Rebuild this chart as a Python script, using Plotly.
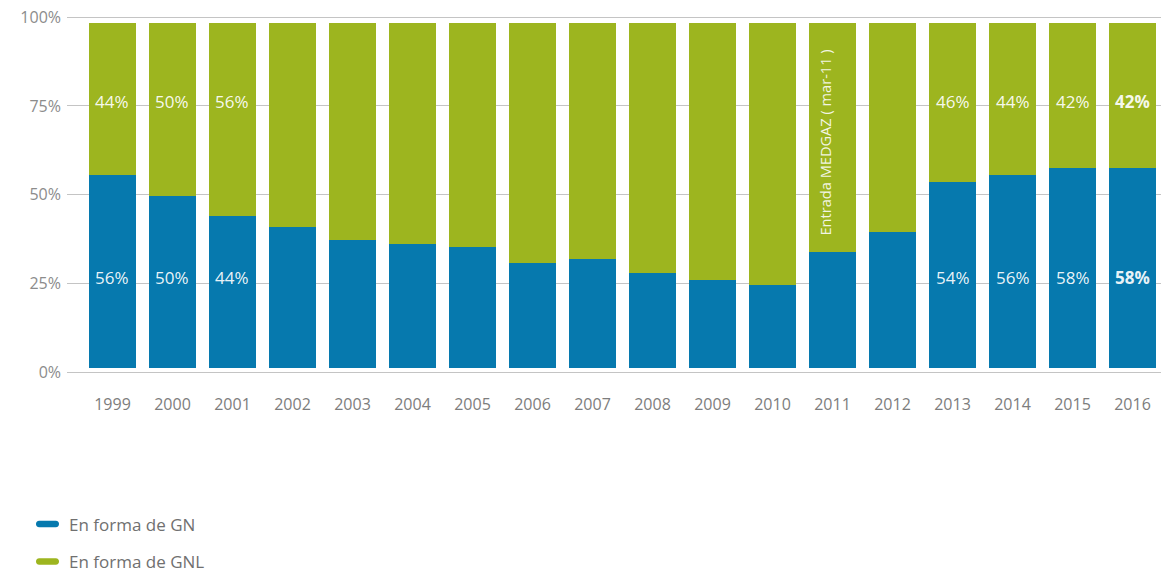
import plotly.graph_objects as go

YEARS = ["1999", "2000", "2001", "2002", "2003", "2004", "2005", "2006", "2007",
         "2008", "2009", "2010", "2011", "2012", "2013", "2014", "2015", "2016"]

# share of imports (%)
GN = [56, 50, 44, 41, 37, 36, 35, 30.5, 31.5, 27.5, 25.5, 24, 33.5, 39.5, 54, 56, 58, 58]
GNL = [44, 50, 56, 59, 63, 64, 65, 69.5, 68.5, 72.5, 74.5, 76, 66.5, 60.5, 46, 44, 42, 42]

GN_LABELS = ["56%", "50%", "44%", "", "", "", "", "", "", "", "", "", "", "",
             "54%", "56%", "58%", "58%"]
GNL_LABELS = ["44%", "50%", "56%", "", "", "", "", "", "", "", "", "", "", "",
              "46%", "44%", "42%", "42%"]
BOLD_YEAR = "2016"

SERIES_NAMES = ["En forma de GN", "En forma de GNL"]
Y_TICKS = [0, 25, 50, 75, 100]
Y_TICK_TEXT = ["0%", "25%", "50%", "75%", "100%"]

NOTE_YEAR = "2011"
NOTE_TEXT = "Entrada MEDGAZ ( mar-11 )"

BLUE = "#0679ae"
GREEN = "#9db51f"
FONT = "Open Sans, sans-serif"

# in the original the gridlines are on a slightly taller scale than the bars
GRID_ZERO = -1.36
GRID_SCALE = 1.031
grid_vals = [GRID_ZERO + t * GRID_SCALE for t in Y_TICKS]

fig = go.Figure()
for name, vals, col in [(SERIES_NAMES[0], GN, BLUE), (SERIES_NAMES[1], GNL, GREEN)]:
    fig.add_trace(go.Bar(
        x=YEARS, y=vals, name=name,
        marker=dict(color=col, line=dict(width=0)),
        showlegend=False, hoverinfo="x+y+name",
    ))

# annotation x on a category axis: use the category index (year strings look numeric)
annotations = []
for i, (yr, a, b) in enumerate(zip(YEARS, GN_LABELS, GNL_LABELS)):
    for txt, ypos in [(a, 26.2), (b, 77.3)]:
        if not txt:
            continue
        if yr == BOLD_YEAR:
            txt = f"<b>{txt}</b>"
        annotations.append(dict(
            x=i, y=ypos, xref="x", yref="y", text=txt, showarrow=False,
            font=dict(family=FONT, size=17, color="rgba(255,255,255,0.93)"),
        ))

annotations.append(dict(
    x=YEARS.index(NOTE_YEAR), y=65.5, xref="x", yref="y", xshift=-7, text=NOTE_TEXT,
    textangle=-90, showarrow=False,
    font=dict(family=FONT, size=14.6, color="rgba(255,255,255,0.88)"),
))

# legend drawn by hand: rounded pills + labels
L, T, B, W = 67, 15, 375, 1094
H = B - T
pill = ("M -8.25,-3.2 L 8.25,-3.2 C 12.6,-3.2 12.6,3.2 8.25,3.2 "
        "L -8.25,3.2 C -12.6,3.2 -12.6,-3.2 -8.25,-3.2 Z")
shapes = []
for i, (name, col) in enumerate(zip(SERIES_NAMES, [BLUE, GREEN])):
    py = 524 + i * 37.5
    ypaper = (B - py) / H
    shapes.append(dict(
        type="path", xref="paper", yref="paper", xsizemode="pixel", ysizemode="pixel",
        xanchor=(47.5 - L) / W, yanchor=ypaper, path=pill,
        fillcolor=col, line=dict(width=0),
    ))
    annotations.append(dict(
        x=(67 - L) / W, y=ypaper, xref="paper", yref="paper", text=name,
        xanchor="left", yanchor="middle", showarrow=False,
        font=dict(family=FONT, size=17, color="#707070"),
    ))

fig.update_layout(
    width=1161, height=574,
    margin=dict(l=L, r=0, t=T, b=574 - B),
    paper_bgcolor="white", plot_bgcolor="white",
    font=dict(family=FONT, size=16, color="#858585"),
    barmode="stack", bargap=0.217,
    showlegend=False,
    xaxis=dict(
        type="category", range=[-0.758, 17.475],
        showgrid=False, showline=False, zeroline=False,
        ticks="", ticklabelstandoff=18,
        tickfont=dict(family=FONT, size=16, color="#7d7d7d"),
    ),
    yaxis=dict(
        range=[-2.03, 102.32], tickvals=grid_vals, ticktext=Y_TICK_TEXT,
        showgrid=True, gridcolor="#c4c4c4", gridwidth=1,
        zeroline=False, showline=False, ticks="", ticklabelstandoff=5,
        tickfont=dict(family=FONT, size=16, color="#8c8c8c"),
    ),
    annotations=annotations,
    shapes=shapes,
)

fig.write_html("out.html", config={"displayModeBar": False},
               post_script="document.body.style.margin='0';")
